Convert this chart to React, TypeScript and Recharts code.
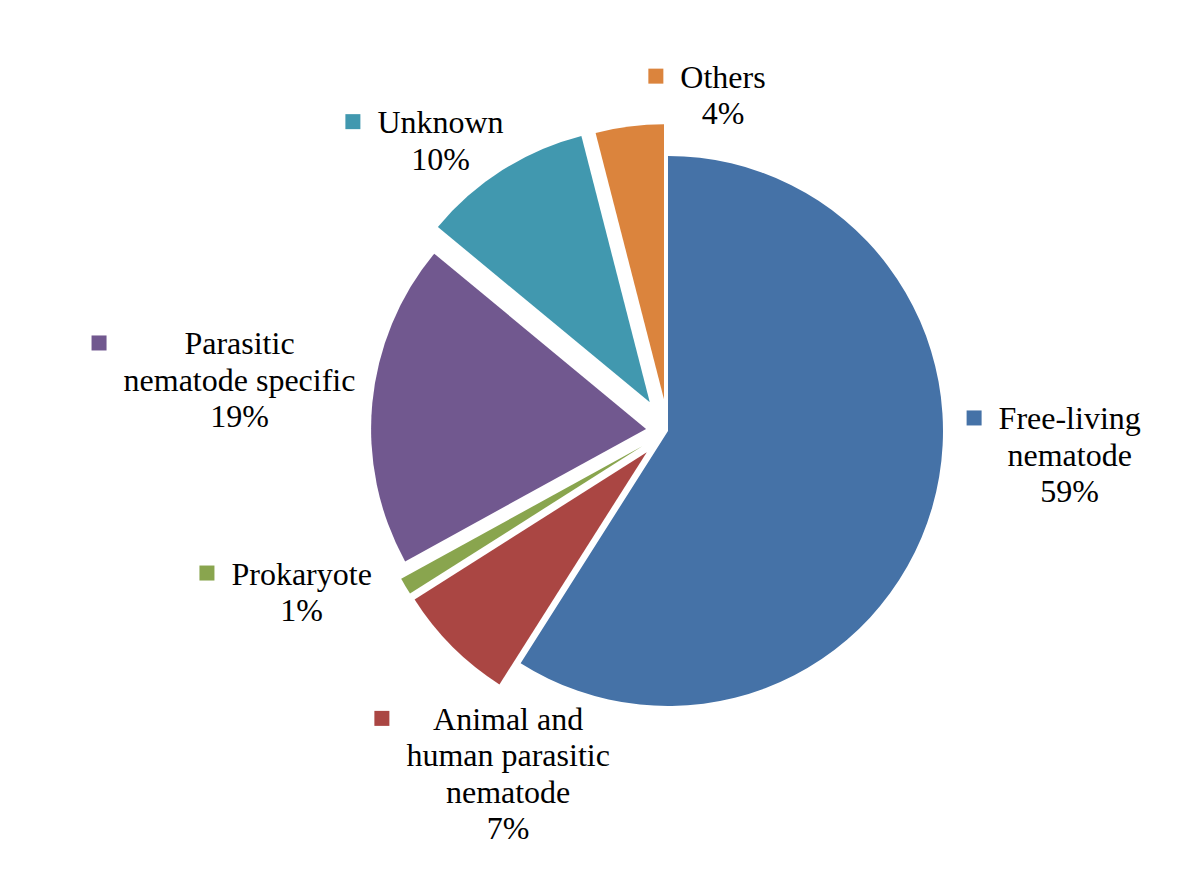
import React from "react"
import { PieChart, Pie, Cell, Sector } from "recharts"

// slice order is clockwise from 12 o'clock, as in the source figure
const categories = ["Free-living\nnematode", "Animal and\nhuman parasitic\nnematode", "Prokaryote", "Parasitic\nnematode specific", "Unknown", "Others"]
const shares = [59, 7, 1, 19, 10, 4]
const colors = ["#4572A7", "#AA4643", "#89A54E", "#71588F", "#4198AF", "#DB843D"]

// how far each slice is pulled out, and where each label sits relative to its slice
const explode = [0, 30, 30, 22, 34, 32]
const labelNudge = [[80, -95], [77, 62], [-78, -17], [-95, -45], [-48, -15], [97, -11]]

const FONT = "'Liberation Serif', 'Times New Roman', serif"
const FONT_SIZE = 32
const LINE_H = 36.5
const RAD = Math.PI / 180

const data = categories.map((name, i) => ({ name, value: shares[i] }))

let ctx: CanvasRenderingContext2D | null = null
function textWidth(s: string) {
  if (!ctx) ctx = document.createElement("canvas").getContext("2d")
  if (!ctx) return s.length * FONT_SIZE * 0.45
  ctx.font = `${FONT_SIZE}px ${FONT}`
  return ctx.measureText(s).width
}

function renderSlice(props: any) {
  const { cx, cy, outerRadius, startAngle, endAngle, index, percent } = props
  const mid = (startAngle + endAngle) / 2
  const d = explode[index]
  const sx = cx + d * Math.cos(-mid * RAD)
  const sy = cy + d * Math.sin(-mid * RAD)

  const r = outerRadius + 60
  const tx = cx + r * Math.cos(-mid * RAD) + labelNudge[index][0]
  const ty = cy + r * Math.sin(-mid * RAD) + labelNudge[index][1]
  const lines = [...categories[index].split("\n"), `${Math.round(percent * 100)}%`]
  const widest = Math.max(...lines.map(textWidth))

  return (
    <g key={`slice-${index}`}>
      <Sector cx={sx} cy={sy} innerRadius={0} outerRadius={outerRadius}
        startAngle={startAngle} endAngle={endAngle} fill={colors[index]} stroke="none" />
      <rect x={tx - widest / 2 - 32} y={ty - 19} width={15} height={15} fill={colors[index]} />
      {lines.map((ln, j) => (
        <text key={j} x={tx} y={ty + j * LINE_H} textAnchor="middle"
          fontFamily={FONT} fontSize={FONT_SIZE} fill="#000">{ln}</text>
      ))}
    </g>
  )
}

export default function App() {
  return (
    <div style={{ position: "absolute", left: 0, top: 0, width: 1200, height: 879, background: "#fff" }}>
      <PieChart width={1200} height={879} margin={{ top: 0, right: 0, bottom: 0, left: 0 }}>
        <Pie
          data={data}
          dataKey="value"
          nameKey="name"
          cx={668}
          cy={431}
          outerRadius={275}
          startAngle={90}
          endAngle={-270}
          stroke="none"
          label={renderSlice}
          labelLine={false}
          isAnimationActive={false}
        >
          {data.map((_, i) => <Cell key={i} fill="transparent" />)}
        </Pie>
      </PieChart>
    </div>
  )
}
